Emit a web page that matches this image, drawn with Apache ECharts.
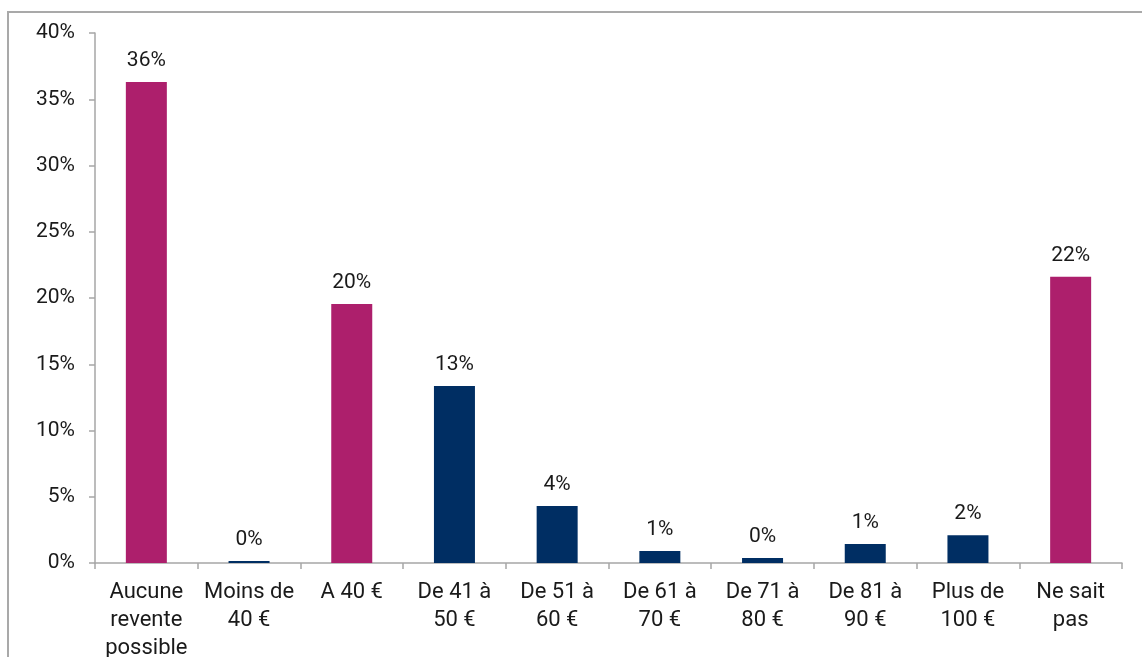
<!DOCTYPE html>
<html>
<head>
<meta charset="utf-8">
<script src="https://cdn.jsdelivr.net/npm/echarts@6/dist/echarts.min.js"></script>
<style>html,body{margin:0;padding:0;background:#fff}#c{width:1142px;height:657px}</style>
</head>
<body>
<div id="c"></div>
<script>
const categories = ['Aucune\nrevente\npossible', 'Moins de\n40 €', 'A 40 €', 'De 41 à\n50 €', 'De 51 à\n60 €', 'De 61 à\n70 €', 'De 71 à\n80 €', 'De 81 à\n90 €', 'Plus de\n100 €', 'Ne sait\npas'];
const values = [36.3, 0.15, 19.55, 13.35, 4.3, 0.9, 0.38, 1.43, 2.1, 21.6];
const highlight = [true, false, true, false, false, false, false, false, false, true];
const yTicks = { min: 0, max: 40, interval: 5 };

const MAGENTA = '#AD1F6C';
const NAVY = '#002E63';
const AXIS = '#A6A6A6';

const chart = echarts.init(document.getElementById('c'), null, { renderer: 'canvas' });
chart.setOption({
  animation: false,
  backgroundColor: '#fff',
  graphic: [{
    type: 'rect', silent: true, z: -1,
    shape: { x: 8, y: 12, width: 1300, height: 800 },
    style: { fill: 'none', stroke: '#A9A9A9', lineWidth: 2 }
  }],
  grid: { left: 95, right: 20, top: 33, bottom: 94, containLabel: false, outerBoundsMode: 'none' },
  xAxis: {
    type: 'category',
    data: categories,
    axisLine: { show: true, lineStyle: { color: AXIS, width: 1.5 } },
    axisTick: { show: true, length: 6, alignWithLabel: false, lineStyle: { color: AXIS, width: 1.5 } },
    axisLabel: { interval: 0, fontFamily: 'Roboto', fontSize: 22, color: '#1a1a1a', lineHeight: 28, margin: 15 }
  },
  yAxis: {
    type: 'value',
    min: yTicks.min, max: yTicks.max, interval: yTicks.interval,
    splitLine: { show: false },
    axisLine: { show: true, lineStyle: { color: AXIS, width: 1.5 } },
    axisTick: { show: true, length: 6, lineStyle: { color: AXIS, width: 1.5 } },
    axisLabel: { formatter: '{value}%', fontFamily: 'Roboto', fontSize: 21, color: '#1a1a1a', margin: 20 }
  },
  series: [{
    type: 'bar',
    barWidth: 41,
    data: values.map((v, i) => ({ value: v, itemStyle: { color: highlight[i] ? MAGENTA : NAVY } })),
    label: {
      show: true, position: 'top', distance: 11,
      fontFamily: 'Roboto', fontSize: 21, color: '#1a1a1a',
      formatter: p => Math.round(p.value) + '%'
    }
  }]
});
</script>
</body>
</html>
